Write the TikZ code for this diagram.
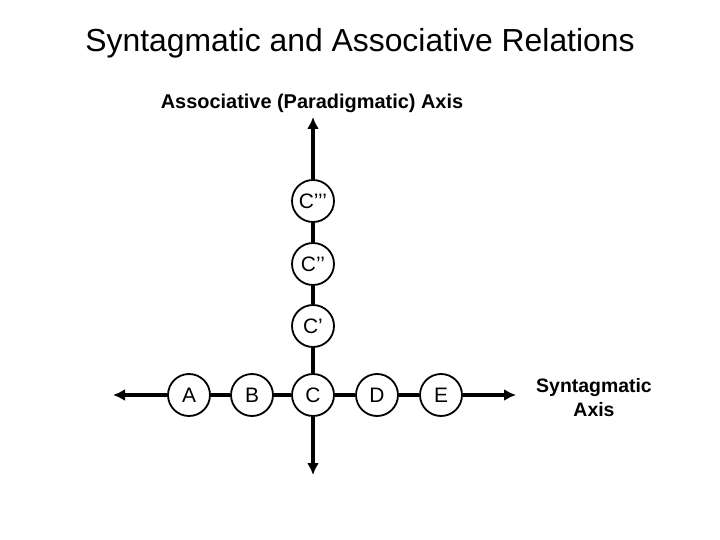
\documentclass[tikz,border=0pt]{standalone}
\usepackage{fontspec}
\setmainfont{Liberation Sans}
\usepackage{tikz}
\usetikzlibrary{arrows.meta}
\tikzset{>={Latex[length=12bp,width=12bp]}}
\tikzset{unit/.style={circle, draw, line width=1.8bp, fill=white, minimum size=42bp, inner sep=0pt, font=\fontsize{21}{24}\selectfont}}
\tikzset{axis/.style={line width=4bp}}

\begin{document}
\begin{tikzpicture}[x=1bp, y=-1bp]
    \useasboundingbox (0,0) rectangle (720,540);

    \node at (360,43) (title) {\fontsize{32}{36}\selectfont Syntagmatic and Associative Relations};
    \node at (312,103) (assoc) {\fontsize{20}{24}\selectfont\bfseries Associative (Paradigmatic) Axis};
    \node[align=center, font=\fontsize{19.5}{24}\selectfont\bfseries] at (594,398) (synt) {Syntagmatic\\ Axis};

    % syntagmatic row
    \node[unit] at (189,395) (A) {A};
    \node[unit] at (252,395) (B) {B};
    \node[unit] at (313,395) (C) {C};
    \node[unit] at (377,395) (D) {D};
    \node[unit] at (441,395) (E) {E};
    % associative column
    \node[unit] at (313,326) (C1) {C’};
    \node[unit] at (313,264) (C2) {C’’};
    \node[unit] at (313,201) (C3) {C’’’};

    \coordinate (left) at (113,395);
    \coordinate (right) at (516,395);
    \coordinate (top) at (313,117);
    \coordinate (bottom) at (313,475);

    \path[axis] (A) edge (B) (B) edge (C) (C) edge (D) (D) edge (E);
    \path[axis] (C) edge (C1) (C1) edge (C2) (C2) edge (C3);
    \path[axis, ->] (A) edge (left) (E) edge (right);
    \path[axis, ->] (C3) edge (top) (C) edge (bottom);
\end{tikzpicture}
\end{document}
